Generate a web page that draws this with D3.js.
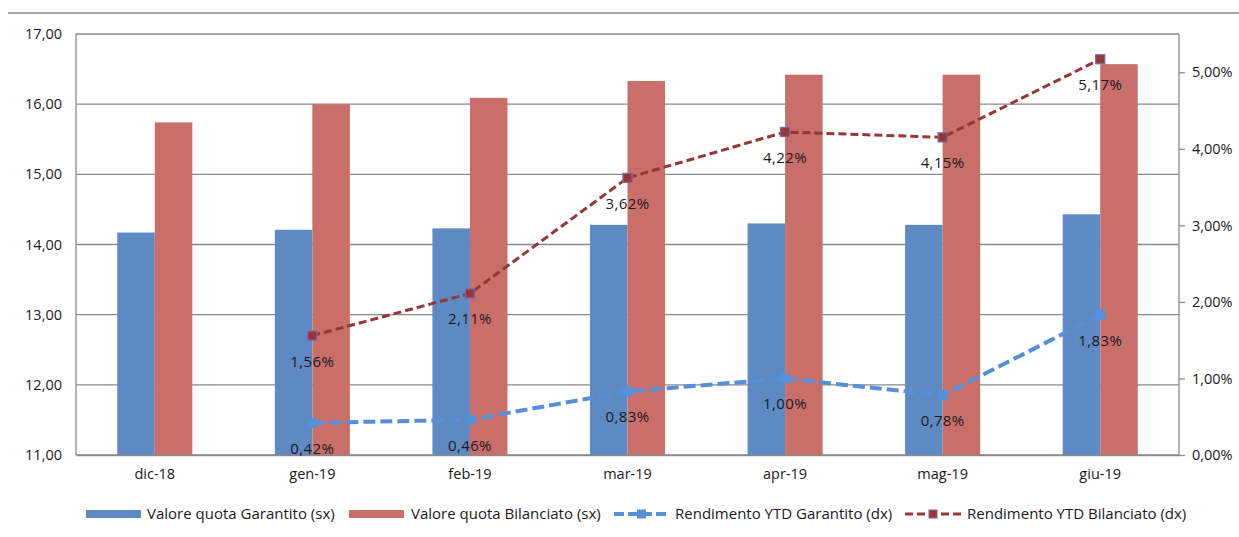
<!DOCTYPE html>
<html>
<head>
<meta charset="utf-8">
<script src="https://cdn.jsdelivr.net/npm/d3@7"></script>
<style>
  body { margin: 0; background: #fff; }
  svg { display: block; font-family: "Open Sans", Lato, sans-serif; }
</style>
</head>
<body>
<div id="chart"></div>
<script>
// chart data
const categories = ["dic-18", "gen-19", "feb-19", "mar-19", "apr-19", "mag-19", "giu-19"];
const quotaGarantito = [14.17, 14.21, 14.23, 14.28, 14.30, 14.28, 14.43];
const quotaBilanciato = [15.74, 16.00, 16.09, 16.33, 16.42, 16.42, 16.57];
const ytdGarantito = [null, 0.42, 0.46, 0.83, 1.00, 0.78, 1.83];
const ytdBilanciato = [null, 1.56, 2.11, 3.62, 4.22, 4.15, 5.17];
const leftTicks = [11, 12, 13, 14, 15, 16, 17];
const rightTicks = [0, 1, 2, 3, 4, 5];
const legendLabels = [
    "Valore quota Garantito (sx)",
    "Valore quota Bilanciato (sx)",
    "Rendimento YTD Garantito (dx)",
    "Rendimento YTD Bilanciato (dx)"
];

const width = 1239, height = 537;
const margin = { top: 34, right: 60, bottom: 82, left: 76 };
const colors = {
    barBlue: "#5e8ac3",
    barRed: "#ca6e6a",
    lineBlue: "#5590d8",
    lineRed: "#953735",
    markerEdge: "#8064a2",
    grid: "#8a8a8a",
    text: "#1a1a1a"
};

const fmt = (v, d) => v.toFixed(d).replace(".", ",");

const svg = d3.select("#chart").append("svg")
    .attr("width", width)
    .attr("height", height);

// top border of the chart frame
svg.append("line")
    .attr("x1", 8).attr("x2", width)
    .attr("y1", 13).attr("y2", 13)
    .attr("stroke", "#8a8a8a").attr("stroke-width", 1.5);

const x = d3.scaleBand()
    .domain(categories)
    .range([margin.left, width - margin.right]);

const y = d3.scaleLinear()
    .domain([11, 17])
    .range([height - margin.bottom, margin.top]);

const y2 = d3.scaleLinear()
    .domain([0, 5.5])
    .range([height - margin.bottom, margin.top]);

const sub = d3.scaleBand()
    .domain(["g", "b"])
    .range([0, x.bandwidth()])
    .paddingInner(0)
    .paddingOuter(1.1);

// gridlines
svg.append("g")
    .selectAll("line")
    .data(leftTicks)
    .join("line")
    .attr("x1", margin.left).attr("x2", width - margin.right)
    .attr("y1", d => y(d)).attr("y2", d => y(d))
    .attr("stroke", colors.grid).attr("stroke-width", 1.3);

// axis lines
svg.append("line")
    .attr("x1", margin.left).attr("x2", margin.left)
    .attr("y1", margin.top).attr("y2", height - margin.bottom)
    .attr("stroke", colors.grid).attr("stroke-width", 1.3);
svg.append("line")
    .attr("x1", width - margin.right).attr("x2", width - margin.right)
    .attr("y1", margin.top).attr("y2", height - margin.bottom)
    .attr("stroke", colors.grid).attr("stroke-width", 1.3);

// bars
const groups = svg.append("g")
    .selectAll("g")
    .data(categories)
    .join("g")
    .attr("transform", d => `translate(${x(d)},0)`);

groups.append("rect")
    .attr("x", sub("g"))
    .attr("width", sub.bandwidth())
    .attr("y", (d, i) => y(quotaGarantito[i]))
    .attr("height", (d, i) => y(11) - y(quotaGarantito[i]))
    .attr("fill", colors.barBlue);

groups.append("rect")
    .attr("x", sub("b"))
    .attr("width", sub.bandwidth())
    .attr("y", (d, i) => y(quotaBilanciato[i]))
    .attr("height", (d, i) => y(11) - y(quotaBilanciato[i]))
    .attr("fill", colors.barRed);

// left axis
const leftAxis = svg.append("g")
    .attr("transform", `translate(${margin.left},0)`)
    .call(d3.axisLeft(y).tickValues(leftTicks).tickSize(0).tickPadding(14)
        .tickFormat(d => fmt(d, 2)));
leftAxis.select(".domain").remove();
leftAxis.selectAll("text")
    .attr("font-size", 14.5).attr("fill", colors.text)
    .attr("font-family", "Open Sans");

// right axis
const rightAxis = svg.append("g")
    .attr("transform", `translate(${width - margin.right},0)`)
    .call(d3.axisRight(y2).tickValues(rightTicks).tickSize(6).tickPadding(7)
        .tickFormat(d => fmt(d, 2) + "%"));
rightAxis.select(".domain").remove();
rightAxis.selectAll("line").attr("stroke", colors.grid).attr("stroke-width", 1.3);
rightAxis.selectAll("text")
    .attr("font-size", 14.5).attr("fill", colors.text)
    .attr("font-family", "Open Sans");

// bottom axis
const bottomAxis = svg.append("g")
    .attr("transform", `translate(0,${height - margin.bottom})`)
    .call(d3.axisBottom(x).tickSize(0).tickPadding(14));
bottomAxis.select(".domain")
    .attr("stroke", colors.grid).attr("stroke-width", 1.3);
bottomAxis.selectAll("text")
    .attr("font-size", 14.5).attr("fill", colors.text)
    .attr("font-family", "Open Sans");

const cx = d => x(d) + x.bandwidth() / 2;

function drawLine(values, color, widthPx, dash, markerSize, markerStroke) {
    const pts = categories.map((c, i) => ({ c, v: values[i] })).filter(p => p.v !== null);
    const line = d3.line().x(p => cx(p.c)).y(p => y2(p.v));
    svg.append("path")
        .datum(pts)
        .attr("d", line)
        .attr("fill", "none")
        .attr("stroke", color)
        .attr("stroke-width", widthPx)
        .attr("stroke-dasharray", dash);
    svg.append("g")
        .selectAll("rect")
        .data(pts)
        .join("rect")
        .attr("x", p => cx(p.c) - markerSize / 2)
        .attr("y", p => y2(p.v) - markerSize / 2)
        .attr("width", markerSize).attr("height", markerSize)
        .attr("fill", color)
        .attr("stroke", markerStroke)
        .attr("stroke-width", 1.3);
    svg.append("g")
        .selectAll("text")
        .data(pts)
        .join("text")
        .attr("x", p => cx(p.c))
        .attr("y", p => y2(p.v) + 31)
        .attr("text-anchor", "middle")
        .attr("font-size", 15)
        .attr("letter-spacing", 0.4)
        .attr("fill", colors.text)
        .text(p => fmt(p.v, 2) + "%");
}

drawLine(ytdGarantito, colors.lineBlue, 4, "12,5", 9, colors.lineBlue);
drawLine(ytdBilanciato, colors.lineRed, 3, "8,4", 9, colors.markerEdge);

// legend
const legendY = 514;
const legendItems = [
    { label: legendLabels[0], type: "bar", color: colors.barBlue, x0: 86, x1: 141, tx: 147 },
    { label: legendLabels[1], type: "bar", color: colors.barRed, x0: 349, x1: 404, tx: 411 },
    { label: legendLabels[2], type: "line", color: colors.lineBlue, w: 4, dash: "10,4", ms: 8, edge: colors.lineBlue, x0: 614, x1: 669, tx: 675 },
    { label: legendLabels[3], type: "line", color: colors.lineRed, w: 3, dash: "8,4", ms: 8, edge: colors.markerEdge, x0: 905, x1: 961, tx: 967 }
];
const legend = svg.append("g");
legendItems.forEach(it => {
    if (it.type === "bar") {
        legend.append("rect")
            .attr("x", it.x0).attr("y", legendY - 4)
            .attr("width", it.x1 - it.x0).attr("height", 8)
            .attr("fill", it.color);
    } else {
        legend.append("line")
            .attr("x1", it.x0).attr("x2", it.x1)
            .attr("y1", legendY).attr("y2", legendY)
            .attr("stroke", it.color).attr("stroke-width", it.w)
            .attr("stroke-dasharray", it.dash);
        const mx = (it.x0 + it.x1) / 2;
        legend.append("rect")
            .attr("x", mx - it.ms / 2).attr("y", legendY - it.ms / 2)
            .attr("width", it.ms).attr("height", it.ms)
            .attr("fill", it.color).attr("stroke", it.edge);
    }
    legend.append("text")
        .attr("x", it.tx).attr("y", legendY)
        .attr("dy", "0.35em")
        .attr("font-size", 15)
        .attr("fill", colors.text)
        .text(it.label);
});
</script>
</body>
</html>
